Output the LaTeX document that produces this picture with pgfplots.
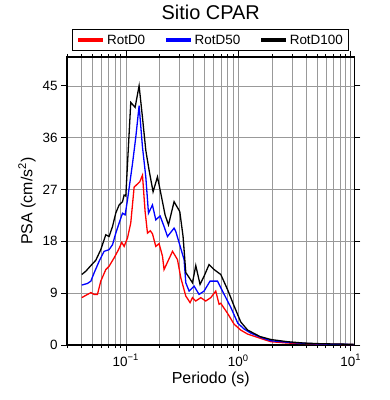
\documentclass[border=0pt]{standalone}
\usepackage{fontspec}
\setmainfont{Liberation Sans}
\usepackage{pgfplots}
\pgfplotsset{compat=1.18}
\begin{document}
\begin{tikzpicture}
\begin{axis}[
  at={(0,0)}, anchor=south west,
  scale only axis, width=287.5bp, height=288bp,
  xmode=log, xmin=0.03, xmax=10.8, ymin=0, ymax=50,
  ytick={0,9,18,27,36,45},
  xtick={0.1,1,10},
  xticklabels={10\textsuperscript{−1},10\textsuperscript{0},10\textsuperscript{1}},
  minor xtick={0.03,0.04,0.05,0.06,0.07,0.08,0.09,0.2,0.3,0.4,0.5,0.6,0.7,0.8,0.9,2,3,4,5,6,7,8,9},
  grid=both,
  major grid style={draw=gray!80, line width=0.5bp},
  minor grid style={draw=gray!80, line width=0.5bp},
  tick align=outside,
  major tick length=6bp, minor tick length=3bp,
  every tick/.style={black, line width=0.6bp},
  axis line style={line width=1.4bp},
  tick label style={font=\fontsize{13.5}{15}\selectfont},
  yticklabel style={/pgf/number format/assume math mode=true},
  xlabel={Periodo (s)}, ylabel={PSA (cm/s\textsuperscript{2})},
  label style={font=\fontsize{16}{18}\selectfont},
  xlabel style={yshift=1bp},
  title={Sitio CPAR},
  title style={font=\fontsize{20}{24}\selectfont, at={(0.5,1)}, anchor=base, yshift=32bp},
  legend columns=3,
  legend style={at={(0.5,1)}, anchor=south, yshift=6bp, draw=black, line width=1bp,
    font=\fontsize{13.5}{15}\selectfont, inner xsep=4bp, inner ysep=3bp,
    /tikz/every even column/.append style={column sep=17bp}},
  legend image code/.code={\draw[#1, line width=3.5bp] (0bp,0bp) -- (25bp,0bp);},
]
\addplot[red, line width=1.3bp] coordinates {
(0.0406,8.22) (0.0441,8.62) (0.0489,9.09) (0.0523,8.79) (0.0560,8.79) (0.0599,11.09)
(0.0664,13.10) (0.0710,13.67) (0.0787,15.12) (0.0861,16.55) (0.0921,17.81) (0.0966,17.12)
(0.1035,18.57) (0.1107,21.2) (0.1186,27.41) (0.1331,28.33) (0.1407,29.48) (0.1485,23.16)
(0.1559,19.43) (0.1651,19.83) (0.1726,19.31) (0.1848,17.12) (0.1977,17.6) (0.2120,15.40)
(0.2189,13.10) (0.2602,16.26) (0.2881,14.83) (0.3083,11.67) (0.3415,8.5) (0.3729,7.36)
(0.3917,8.22) (0.4190,7.64) (0.4642,8.22) (0.5141,7.64) (0.5696,8.22) (0.6310,9.36)
(0.6750,7.07) (0.6989,7.24) (0.8015,5.52) (0.9177,3.62) (1.052,2.59) (1.21,1.9)
(1.50,1.29) (1.945,0.57) (2.74,0.34) (5.41,0.17) (10.6,0.07)
};
\addlegendentry{RotD0}
\addplot[blue, line width=1.3bp] coordinates {
(0.0406,10.40) (0.0457,10.69) (0.0489,11.09) (0.0523,12.53) (0.0579,14.53) (0.0641,16.26)
(0.0710,16.55) (0.0762,17.41) (0.0815,19.43) (0.0872,21.16) (0.0935,22.88) (0.0986,22.59)
(0.1035,25.17) (0.1147,31.5) (0.1227,36.09) (0.1313,41.55) (0.1407,34.36) (0.1506,29.19)
(0.1591,22.88) (0.1726,24.31) (0.1848,21.72) (0.2018,22.41) (0.2189,20.57) (0.2348,18.84)
(0.2687,20.29) (0.2783,19.71) (0.3298,14.83) (0.3415,10.81) (0.3654,9.36) (0.4046,10.22)
(0.4483,8.79) (0.4966,9.36) (0.5614,11.09) (0.6533,11.09) (0.7237,9.36) (0.8577,6.55)
(0.99,3.79) (1.13,2.76) (1.29,2.07) (1.585,1.33) (1.945,0.74) (2.74,0.47) (3.82,0.29)
(5.41,0.17) (10.6,0.09)
};
\addlegendentry{RotD50}
\addplot[black, line width=1.3bp] coordinates {
(0.0406,12.24) (0.0441,12.81) (0.0489,13.79) (0.0541,14.71) (0.0599,16.55) (0.0664,19.14)
(0.0710,18.84) (0.0762,20.57) (0.0815,22.93) (0.0872,24.31) (0.0935,24.88) (0.0966,26.03)
(0.1000,25.86) (0.1107,42.12) (0.1210,41.26) (0.1313,45.0) (0.1407,39.5) (0.1506,33.8)
(0.1611,30.34) (0.1748,26.60) (0.1913,29.19) (0.2047,26.33) (0.2235,22.59) (0.2396,20.86)
(0.2687,24.88) (0.3020,23.16) (0.3230,18.84) (0.3415,12.59) (0.3917,10.81) (0.4190,13.79)
(0.4573,10.52) (0.4966,11.95) (0.5500,13.97) (0.6092,13.10) (0.6989,12.24) (0.8015,9.66)
(0.9177,6.78) (1.052,4.0) (1.21,2.6) (1.56,1.47) (1.95,0.95) (2.74,0.57) (3.82,0.34)
(5.41,0.22) (10.6,0.12)
};
\addlegendentry{RotD100}
\end{axis}
\pgfresetboundingbox
\path (-67bp,-55bp) rectangle (323bp,345bp);
\end{tikzpicture}
\end{document}
